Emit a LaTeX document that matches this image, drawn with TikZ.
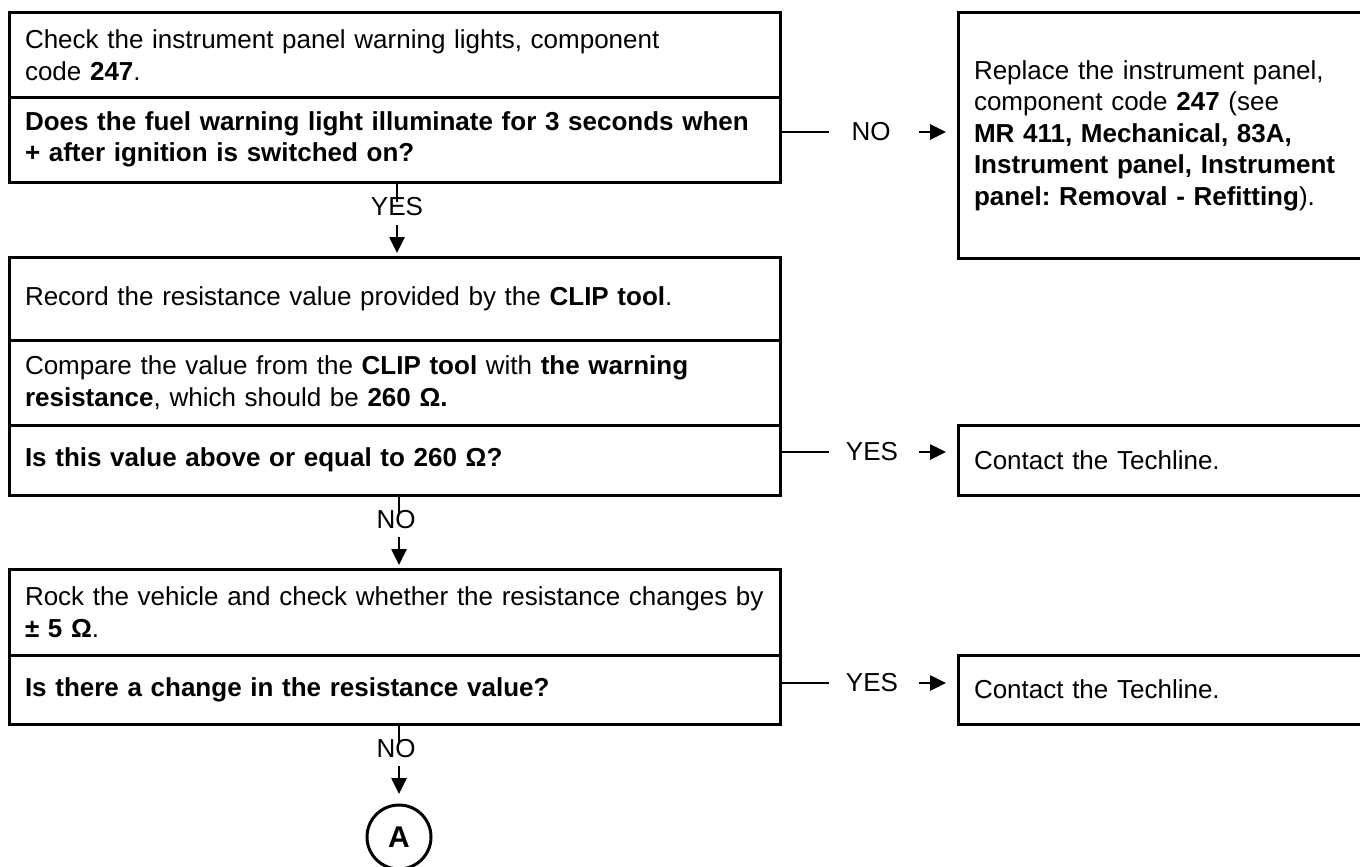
\documentclass[tikz,border=0pt]{standalone}
\usepackage{fontspec}
\setmainfont{Liberation Sans}
\usetikzlibrary{arrows.meta}
\frenchspacing
\tikzset{
  txt/.style={font=\fontsize{26}{31.5}\selectfont},
  rowbox/.style={txt, draw, line width=3pt, outer sep=0pt, minimum width=771pt,
    text width=739pt, inner xsep=16pt, inner ysep=0pt, align=left},
  sidebox/.style={txt, draw, line width=3pt, outer sep=0pt, minimum width=417pt,
    text width=385pt, inner xsep=16pt, inner ysep=0pt, align=left},
  lbl/.style={inner sep=0pt, outer sep=0pt, font=\fontsize{26}{26}\selectfont},
  conn/.style={line width=2.6pt},
  arr/.style={-{Triangle[length=16pt,width=15pt]}},
  endcircle/.style={circle, draw, line width=3pt, outer sep=0pt, inner sep=0pt,
    minimum size=64pt, font=\bfseries\fontsize{30}{30}\selectfont}
}
\begin{document}
\begin{tikzpicture}[x=1pt,y=-1pt]
\useasboundingbox (0,0) rectangle (1360,867);
\clip (0,0) rectangle (1360,867);
\fill[white] (0,0) rectangle (1360,867);

% box 1
\node[rowbox, minimum height=84pt] (b1a) at (394.5,55)
  {Check the instrument panel warning lights, component\\code \textbf{247}.};
\node[rowbox, minimum height=85pt] (b1b) at (394.5,139.5)
  {\textbf{Does the fuel warning light illuminate for 3 seconds when}\\\textbf{+ after ignition is switched on?}};
\node[sidebox, minimum height=245pt] (r1) at (1166.5,135.5)
  {Replace the instrument panel,\\component code \textbf{247} (see\\\textbf{MR 411, Mechanical, 83A,}\\\textbf{Instrument panel, Instrument}\\\textbf{panel: Removal - Refitting}).};

% box 2
\node[rowbox, minimum height=83pt] (b2a) at (394.5,298.5)
  {Record the resistance value provided by the \textbf{CLIP tool}.};
\node[rowbox, minimum height=85pt] (b2b) at (394.5,382.5)
  {Compare the value from the \textbf{CLIP tool} with \textbf{the warning}\\\textbf{resistance}, which should be \textbf{260 Ω.}};
\node[rowbox, minimum height=70pt] (b2c) at (394.5,460)
  {\textbf{Is this value above or equal to 260 Ω?}};
\node[sidebox, minimum height=70pt] (r2) at (1166.5,460)
  {Contact the Techline.};

% box 3
\node[rowbox, minimum height=86pt] (b3a) at (394.5,612)
  {Rock the vehicle and check whether the resistance changes by\\\textbf{± 5 Ω}.};
\node[rowbox, minimum height=69pt] (b3b) at (394.5,689.5)
  {\textbf{Is there a change in the resistance value?}};
\node[sidebox, minimum height=69pt] (r3) at (1166.5,689.5)
  {Contact the Techline.};

\node[endcircle] (cA) at (399,837) {A};

% horizontal connectors
\node[lbl] (h1) at (871,132) {NO};
\draw[conn] (b1b.east |- h1) -- ([xshift=-42pt]h1.center);
\draw[conn,arr] ([xshift=48pt]h1.center) -- ([xshift=-12pt]r1.west |- h1);

\node[lbl] (h2) at (872,452) {YES};
\draw[conn] (b2c.east |- h2) -- ([xshift=-43pt]h2.center);
\draw[conn,arr] ([xshift=47pt]h2.center) -- ([xshift=-12pt]r2.west |- h2);

\node[lbl] (h3) at (872,683) {YES};
\draw[conn] (b3b.east |- h3) -- ([xshift=-43pt]h3.center);
\draw[conn,arr] ([xshift=47pt]h3.center) -- ([xshift=-12pt]r3.west |- h3);

% vertical connectors
\node[lbl] (v1) at (397,207) {YES};
\draw[conn] (b1b.south -| v1) -- ([yshift=5pt]v1.center);
\draw[conn,arr] ([yshift=-18pt]v1.center) -- ([yshift=4pt]b2a.north -| v1);

\node[lbl] (v2) at (396,520) {NO};
\draw[conn] ([xshift=3pt]b2c.south -| v2) -- ([xshift=3pt,yshift=5pt]v2.center);
\draw[conn,arr] ([xshift=3pt,yshift=-17pt]v2.center) -- ([xshift=3pt,yshift=4pt]b3a.north -| v2);

\node[lbl] (v3) at (396,749) {NO};
\draw[conn] ([xshift=3pt]b3b.south -| v3) -- ([xshift=3pt,yshift=5pt]v3.center);
\draw[conn,arr] ([xshift=3pt,yshift=-17pt]v3.center) -- ([yshift=11pt]cA.north);
\end{tikzpicture}
\end{document}
